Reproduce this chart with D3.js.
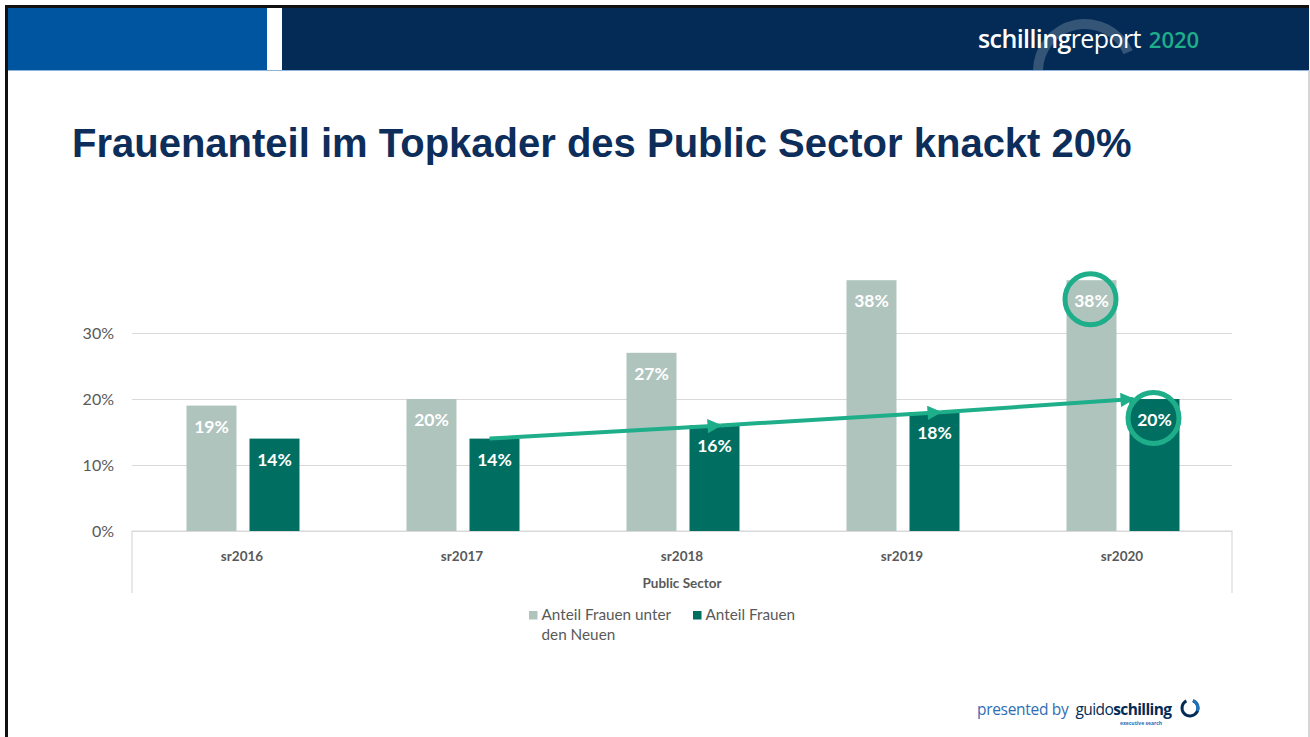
<!DOCTYPE html>
<html>
<head>
<meta charset="utf-8">
<script src="https://cdn.jsdelivr.net/npm/d3@7"></script>
<style>
  html, body { margin: 0; padding: 0; background: #fff; }
  svg { display: block; }
</style>
</head>
<body>
<svg id="chart" width="1310" height="737"></svg>
<script>
'use strict';

const categories = ['sr2016', 'sr2017', 'sr2018', 'sr2019', 'sr2020'];
const seriesNames = ['Anteil Frauen unter den Neuen', 'Anteil Frauen'];
const newHires = [19, 20, 27, 38, 38];
const women = [14, 14, 16, 18, 20];
const yTicks = [0, 10, 20, 30];
const trendFrom = 'sr2017';
const highlighted = [
   { cat: 'sr2020', series: 0 },
   { cat: 'sr2020', series: 1 }
];

const svg = d3.select('#chart'),
   width = +svg.attr('width'),
   height = +svg.attr('height');

const colLight = '#b0c4be',
   colDark = '#006f62',
   colAccent = '#1eae8a',
   navy = '#032b56',
   textGray = '#595959';

// ---- slide frame ----
svg.append('rect').attr('x', 0).attr('y', 0).attr('width', width).attr('height', height).attr('fill', '#fff');
svg.append('rect').attr('x', 7).attr('y', 8).attr('width', 260).attr('height', 62).attr('fill', '#0055a0');
svg.append('rect').attr('x', 282).attr('y', 8).attr('width', 1027).attr('height', 62).attr('fill', navy);

const defs = svg.append('defs');
defs.append('clipPath').attr('id', 'hdr')
   .append('rect').attr('x', 282).attr('y', 8).attr('width', 1027).attr('height', 62);

// faint ring behind the header brand
svg.append('g').attr('clip-path', 'url(#hdr)')
   .append('path')
   .attr('transform', 'translate(1085,71)')
   .attr('d', d3.arc()({ innerRadius: 42, outerRadius: 52, startAngle: -Math.PI * 0.5, endAngle: Math.PI * 0.37 }))
   .attr('fill', '#ffffff').attr('fill-opacity', 0.2);

svg.append('line').attr('x1', 7).attr('x2', 1309).attr('y1', 70.5).attr('y2', 70.5)
   .attr('stroke', '#8fb3d9').attr('stroke-width', 1);
svg.append('line').attr('x1', 5).attr('x2', 1309).attr('y1', 6.5).attr('y2', 6.5)
   .attr('stroke', '#111').attr('stroke-width', 3);
svg.append('line').attr('x1', 6.5).attr('x2', 6.5).attr('y1', 5).attr('y2', height)
   .attr('stroke', '#111').attr('stroke-width', 3);
svg.append('line').attr('x1', 1309).attr('x2', 1309).attr('y1', 70).attr('y2', height)
   .attr('stroke', '#c8c8c8').attr('stroke-width', 1.5);

const brand = svg.append('text')
   .attr('x', 978).attr('y', 48)
   .attr('font-family', '"Open Sans", sans-serif')
   .attr('font-size', 25).attr('fill', '#fff');
brand.append('tspan').attr('font-weight', 600).attr('letter-spacing', -0.6).text('schilling');
brand.append('tspan').attr('font-weight', 400).attr('letter-spacing', -0.6).text('report');
brand.append('tspan').attr('font-weight', 600).attr('fill', colAccent).attr('font-size', 22).attr('dx', 8).text('2020');

// ---- title ----
svg.append('text')
   .attr('x', 72).attr('y', 157)
   .attr('font-family', '"Liberation Sans", Arial, sans-serif')
   .attr('font-weight', 700).attr('font-size', 40)
   .attr('fill', '#0d2d5a')
   .text('Frauenanteil im Topkader des Public Sector knackt 20%');

// ---- chart ----
const plot = { left: 132, right: 1232, top: 260, bottom: 531 };

const x = d3.scaleBand().domain(categories).range([plot.left, plot.right]);
const y = d3.scaleLinear().domain([0, 30]).range([plot.bottom, plot.bottom - 198]);

const barW = 50, barGap = 13;
const barX = (cat, s) => x(cat) + x.bandwidth() / 2 - barW - barGap / 2 + s * (barW + barGap) + 1;

const g = svg.append('g').attr('font-family', 'Lato, "Noto Sans", sans-serif');

// gridlines
const yAxis = d3.axisLeft(y).tickValues(yTicks).tickFormat(d => d + '%').tickSize(-(plot.right - plot.left)).tickPadding(18);
const ya = g.append('g').attr('transform', `translate(${plot.left},0)`).call(yAxis);
ya.select('.domain').remove();
ya.selectAll('.tick line').attr('stroke', '#d9d9d9').attr('stroke-width', 1.2);
ya.selectAll('.tick text').attr('fill', textGray).attr('font-size', 16).attr('font-family', 'Lato, sans-serif');

// category axis box
g.append('path')
   .attr('d', `M${plot.left},${plot.bottom + 62}V${plot.bottom}H${plot.right}V${plot.bottom + 62}`)
   .attr('fill', 'none').attr('stroke', '#d9d9d9').attr('stroke-width', 1.2);

// bars
const series = [newHires, women];
const colors = [colLight, colDark];
const bars = series.map((vals, s) => categories.map((c, i) => ({ cat: c, s: s, v: vals[i] })));

bars.forEach((data, s) => {
   g.append('g').selectAll('rect').data(data).enter().append('rect')
      .attr('x', d => barX(d.cat, d.s))
      .attr('y', d => y(d.v))
      .attr('width', barW)
      .attr('height', d => y(0) - y(d.v))
      .attr('fill', colors[s]);
});

// trend arrow through the tops of the dark bars
const startIdx = categories.indexOf(trendFrom);
const trendPts = categories.slice(startIdx).map((c, k, arr) => {
   const i = startIdx + k, bx = barX(c, 1);
   const px = k === 0 ? bx + 20 : (k === arr.length - 1 ? bx + 4 : bx + barW / 2 + 6);
   return [px, y(women[i])];
});

defs.append('marker')
   .attr('id', 'head')
   .attr('viewBox', '0 0 10 10')
   .attr('refX', 9).attr('refY', 5)
   .attr('markerWidth', 4.2).attr('markerHeight', 3.6)
   .attr('orient', 'auto')
   .attr('markerUnits', 'strokeWidth')
   .append('path').attr('d', 'M0,0L10,5L0,10Z').attr('fill', colAccent);

for (let k = 0; k < trendPts.length - 1; k++) {
   g.append('line')
      .attr('x1', trendPts[k][0]).attr('y1', trendPts[k][1])
      .attr('x2', trendPts[k + 1][0]).attr('y2', trendPts[k + 1][1])
      .attr('stroke', colAccent).attr('stroke-width', 4)
      .attr('marker-end', 'url(#head)');
}

// value labels
bars.forEach(data => {
   g.append('g').selectAll('text').data(data).enter().append('text')
      .attr('x', d => barX(d.cat, d.s) + barW / 2)
      .attr('y', d => y(d.v) + 27)
      .attr('text-anchor', 'middle')
      .attr('fill', '#fff').attr('font-weight', 700).attr('font-size', 17.5)
      .text(d => d.v + '%');
});

// highlight rings
g.append('g').selectAll('circle').data(highlighted).enter().append('circle')
   .attr('cx', d => barX(d.cat, d.series) + barW / 2 - 1)
   .attr('cy', d => y(series[d.series][categories.indexOf(d.cat)]) + 19)
   .attr('r', 25.5)
   .attr('fill', 'none').attr('stroke', colAccent).attr('stroke-width', 5);

// category labels
const xa = g.append('g').attr('transform', `translate(0,${plot.bottom})`)
   .call(d3.axisBottom(x).tickSize(0).tickPadding(20));
xa.select('.domain').remove();
xa.selectAll('.tick text').attr('fill', textGray).attr('font-size', 13.5).attr('font-weight', 700)
   .attr('font-family', 'Lato, sans-serif');

g.append('text')
   .attr('x', (plot.left + plot.right) / 2).attr('y', 588)
   .attr('text-anchor', 'middle')
   .attr('fill', textGray).attr('font-size', 13.5).attr('font-weight', 700)
   .text('Public Sector');

// legend
const legendItems = [
   { lines: ['Anteil Frauen unter', 'den Neuen'], color: colLight, x: 529 },
   { lines: [seriesNames[1]], color: colDark, x: 693 }
];
const lg = g.append('g').selectAll('g').data(legendItems).enter().append('g')
   .attr('transform', d => `translate(${d.x},610)`);
lg.append('rect').attr('width', 8.5).attr('height', 8.5).attr('y', 1).attr('fill', d => d.color);
lg.append('text')
   .attr('x', 12.5).attr('y', 10)
   .attr('fill', textGray).attr('font-size', 15.3)
   .selectAll('tspan').data(d => d.lines).enter().append('tspan')
   .attr('x', 12.5).attr('dy', (d, i) => i === 0 ? 0 : 20)
   .text(d => d);

// ---- footer ----
const foot = svg.append('text')
   .attr('x', 977).attr('y', 715)
   .attr('font-family', '"Open Sans", sans-serif')
   .attr('font-size', 15.5);
foot.append('tspan').attr('fill', '#2f6db5').attr('letter-spacing', -0.3).text('presented by');
foot.append('tspan').attr('fill', navy).attr('dx', 7).attr('letter-spacing', -0.6).text('guido');
foot.append('tspan').attr('fill', navy).attr('font-weight', 700).attr('letter-spacing', -0.6).text('schilling');
svg.append('text')
   .attr('x', 1120).attr('y', 725)
   .attr('font-family', '"Open Sans", sans-serif')
   .attr('font-size', 5).attr('font-weight', 700).attr('fill', '#2f6db5')
   .text('executive search');

const ring = svg.append('g').attr('transform', 'translate(1190,708)');
ring.append('path')
   .attr('d', d3.arc()({ innerRadius: 6.5, outerRadius: 9.5, startAngle: Math.PI * 0.12, endAngle: Math.PI * 1.85 }))
   .attr('fill', navy);
ring.append('path')
   .attr('d', d3.arc()({ innerRadius: 6.5, outerRadius: 9.5, startAngle: Math.PI * 0.12, endAngle: Math.PI * 0.62 }))
   .attr('fill', '#1e73be');
</script>
</body>
</html>
